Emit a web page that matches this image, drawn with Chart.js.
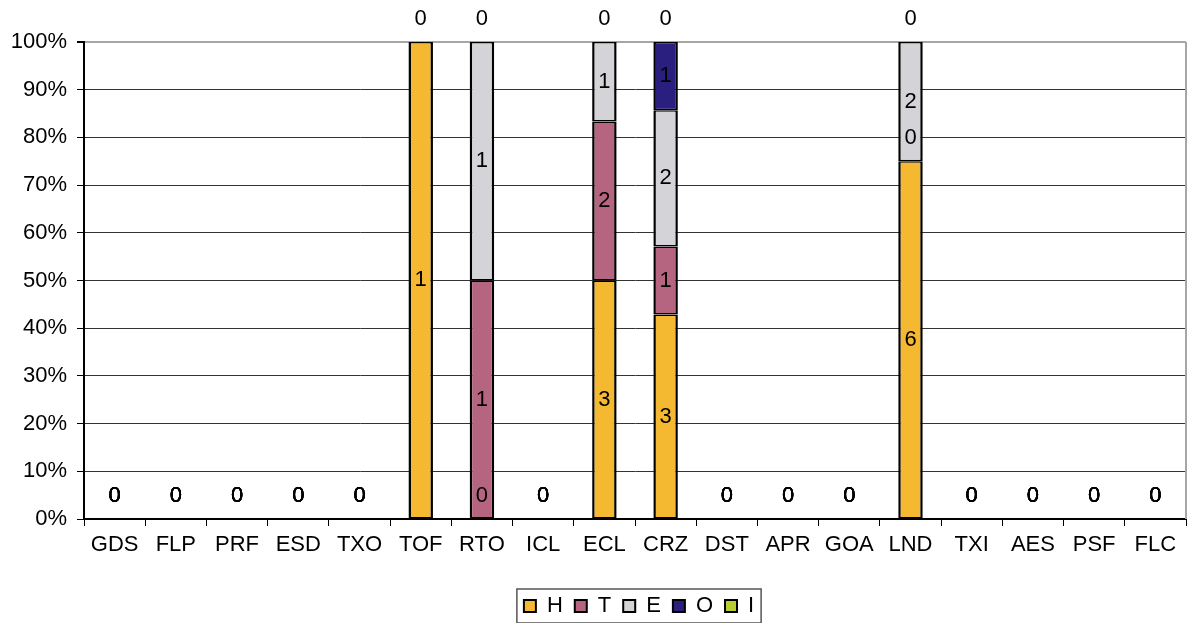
<!DOCTYPE html>
<html>
<head>
<meta charset="utf-8">
<script src="https://cdn.jsdelivr.net/npm/chart.js@4.4.0/dist/chart.umd.min.js"></script>
<style>
  html, body { margin: 0; padding: 0; background: #fff; }
  #wrap { width: 1189px; height: 623px; }
</style>
</head>
<body>
<div id="wrap"><canvas id="chart"></canvas></div>
<script>
// categories and raw counts per series
const categories = ['GDS', 'FLP', 'PRF', 'ESD', 'TXO', 'TOF', 'RTO', 'ICL', 'ECL',
                    'CRZ', 'DST', 'APR', 'GOA', 'LND', 'TXI', 'AES', 'PSF', 'FLC'];
const seriesNames = ['H', 'T', 'E', 'O', 'I'];
const H = [0, 0, 0, 0, 0, 1, 0, 0, 3, 3, 0, 0, 0, 6, 0, 0, 0, 0];
const T = [0, 0, 0, 0, 0, 0, 1, 0, 2, 1, 0, 0, 0, 0, 0, 0, 0, 0];
const E = [0, 0, 0, 0, 0, 0, 1, 0, 1, 2, 0, 0, 0, 2, 0, 0, 0, 0];
const O = [0, 0, 0, 0, 0, 0, 0, 0, 0, 1, 0, 0, 0, 0, 0, 0, 0, 0];
const I = [0, 0, 0, 0, 0, 0, 0, 0, 0, 0, 0, 0, 0, 0, 0, 0, 0, 0];
const yTicks = [0, 10, 20, 30, 40, 50, 60, 70, 80, 90, 100];

const counts = [H, T, E, O, I];
const colors = ['#F5B931', '#B5657F', '#D4D4D8', '#2A1E7E', '#B9CD32'];
const FONT = 'Liberation Sans, Arial, sans-serif';
const FSIZE = 22;

// totaux par catégorie -> pourcentages (100% empilé)
const totals = categories.map((c, i) => counts.reduce((s, arr) => s + arr[i], 0));
function toPct(arr) {
	return arr.map((v, i) => totals[i] ? v / totals[i] * 100 : 0);
}

// étiquettes de valeurs (valeur brute, les zéros juste au dessus du point)
const valueLabels = {
	id: 'valueLabels',
	afterDatasetsDraw(chart) {
		const ctx = chart.ctx;
		const done = {};
		ctx.save();
		ctx.font = FSIZE + 'px ' + FONT;
		ctx.fillStyle = '#000';
		ctx.textAlign = 'center';
		ctx.textBaseline = 'middle';
		chart.data.datasets.forEach((ds, d) => {
			chart.getDatasetMeta(d).data.forEach((el, i) => {
				const v = counts[d][i];
				const y = v === 0 ? el.y - 23 : (el.y + el.base) / 2;
				const key = Math.round(el.x) + '_' + Math.round(y);
				// les catégories vides empilent plusieurs "0" au même endroit
				if (done[key] && totals[i] !== 0) return;
				done[key] = true;
				ctx.fillText(String(v), el.x, y);
			});
		});
		ctx.restore();
	}
};

// bord droit gris + cadre de la légende (légende décalée vers la droite)
const frame = {
	id: 'frame',
	afterLayout(chart) {
		chart.legend.left += 46;
		chart.legend.right += 46;
	},
	beforeDatasetsDraw(chart) {
		const a = chart.chartArea;
		const ctx = chart.ctx;
		ctx.save();
		ctx.strokeStyle = '#a6a6a6';
		ctx.lineWidth = 2;
		ctx.beginPath();
		ctx.moveTo(a.right, a.top);
		ctx.lineTo(a.right, a.bottom);
		ctx.stroke();
		ctx.restore();
	},
	afterDraw(chart) {
		const boxes = chart.legend.legendHitBoxes;
		if (!boxes || !boxes.length) return;
		const left = Math.min(...boxes.map(b => b.left)) - 7;
		const right = Math.max(...boxes.map(b => b.left + b.width)) + 7;
		const mid = boxes[0].top + boxes[0].height / 2;
		const ctx = chart.ctx;
		ctx.save();
		ctx.strokeStyle = '#555';
		ctx.lineWidth = 1.5;
		ctx.strokeRect(left, mid - 17, right - left, 34);
		ctx.restore();
	}
};

new Chart(document.getElementById('chart'), {
	type: 'bar',
	data: {
		labels: categories,
		datasets: seriesNames.map((name, d) => ({
			label: name,
			data: toPct(counts[d]),
			backgroundColor: colors[d],
			borderColor: '#000',
			borderWidth: { left: 2.5, right: 2.5, top: 1.5, bottom: 1.5 },
			borderSkipped: false,
			categoryPercentage: 1,
			barPercentage: 0.4,
		}))
	},
	options: {
		responsive: true,
		maintainAspectRatio: false,
		animation: false,
		layout: { padding: { top: 42, right: 3, left: 0, bottom: -4 } },
		plugins: {
			legend: {
				position: 'bottom',
				labels: {
					boxWidth: 12,
					boxHeight: 12,
					padding: 12,
					color: '#000',
					font: { family: FONT, size: FSIZE }
				}
			},
			tooltip: { enabled: false }
		},
		scales: {
			x: {
				stacked: true,
				afterFit(scale) { scale.height = 64; },
				grid: { display: true, drawOnChartArea: false, color: '#000', tickLength: 7 },
				border: { color: '#000', width: 2 },
				ticks: { color: '#000', padding: 6, maxRotation: 0, autoSkip: false,
					font: { family: FONT, size: FSIZE } }
			},
			y: {
				stacked: true,
				min: 0,
				max: 100,
				afterFit(scale) { scale.width = 84; },
				afterBuildTicks(scale) { scale.ticks = yTicks.map(v => ({ value: v })); },
				grid: {
					color: c => c.tick && c.tick.value === 100 ? '#a6a6a6' : '#333',
					lineWidth: c => c.tick && c.tick.value === 100 ? 2 : 1,
					tickColor: '#000',
					tickLength: 7
				},
				border: { color: '#000', width: 2 },
				ticks: { color: '#000', padding: 10, callback: v => v + '%',
					font: { family: FONT, size: FSIZE } }
			}
		}
	},
	plugins: [valueLabels, frame]
});
</script>
</body>
</html>
